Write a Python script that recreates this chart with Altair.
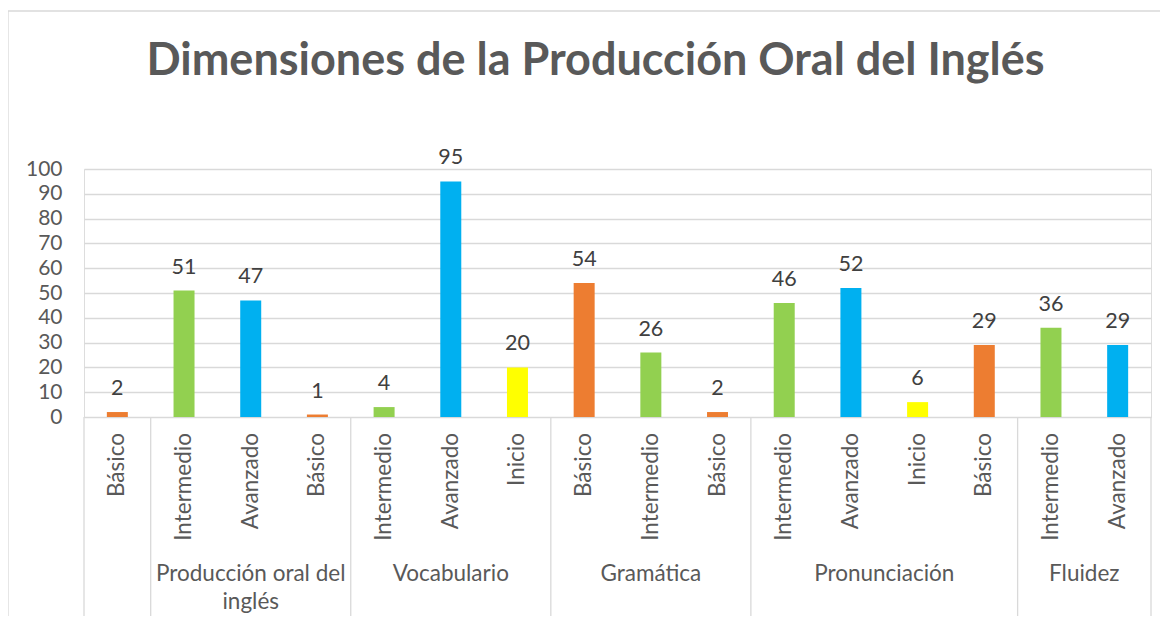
import altair as alt
import pandas as pd

# ---- data ----
title_text = "Dimensiones de la Producción Oral del Inglés"
groups = ["", "Producción oral del\ninglés", "Vocabulario", "Gramática", "Pronunciación", "Fluidez"]
group_sizes = [1, 3, 3, 3, 4, 2]
levels = ["Básico", "Intermedio", "Avanzado", "Básico",
          "Intermedio", "Avanzado", "Inicio",
          "Básico", "Intermedio", "Básico",
          "Intermedio", "Avanzado", "Inicio", "Básico",
          "Intermedio", "Avanzado"]
values = [2, 51, 47, 1,
          4, 95, 20,
          54, 26, 2,
          46, 52, 6, 29,
          36, 29]
level_domain = ["Básico", "Intermedio", "Avanzado", "Inicio"]
level_colors = ["#ED7D31", "#92D050", "#00B0F0", "#FFFF00"]
y_ticks = list(range(0, 101, 10))

W, H = 1067, 248
n = len(values)
FONT = "Lato"
GRID = "#D9D9D9"
TXT = "#595959"

bars_df = pd.DataFrame({"pos": [i + 0.5 for i in range(n)], "nivel": levels, "valor": values})
bounds = [0]
for s in group_sizes:
    bounds.append(bounds[-1] + s)
sep_df = pd.DataFrame({"pos": bounds})
grp_df = pd.DataFrame({"pos": [(bounds[i] + bounds[i + 1]) / 2 for i in range(len(groups))],
                       "grupo": groups})
title_df = pd.DataFrame({"t": [title_text]})

x = alt.X("pos:Q", scale=alt.Scale(domain=[0, n], nice=False, zero=False, padding=0), axis=None)
y = alt.Y("valor:Q", scale=alt.Scale(domain=[0, 100], nice=False, padding=0),
          axis=alt.Axis(values=y_ticks, tickCount=11, grid=True, gridColor=GRID, gridWidth=1.3,
                        domain=False, ticks=False, labelFontSize=21, labelColor=TXT,
                        labelFont=FONT, labelPadding=22, labelOverlap=False, title=None))

border = alt.Chart(pd.DataFrame({"a": [0]})).mark_rect(
    fill="white", fillOpacity=0, stroke=GRID, strokeWidth=1.3
).encode(x=alt.value(-76), x2=alt.value(W + 100), y=alt.value(-158), y2=alt.value(H + 300))

title = alt.Chart(title_df).mark_text(
    align="center", baseline="alphabetic", font=FONT, fontSize=45, fontWeight="bold", color=TXT
).encode(x=alt.value(W / 2 - 22), y=alt.value(-94), text="t:N")

bars = alt.Chart(bars_df).mark_bar(size=21, orient="vertical").encode(
    x=x, y=y,
    color=alt.Color("nivel:N", scale=alt.Scale(domain=level_domain, range=level_colors), legend=None),
)

labels = alt.Chart(bars_df).mark_text(
    baseline="alphabetic", dy=-17, fontSize=21.5, color="#404040", font=FONT
).encode(x=x, y="valor:Q", text="valor:Q")

cats = alt.Chart(bars_df).mark_text(
    angle=270, align="right", baseline="middle", fontSize=22.5, color=TXT, font=FONT
).encode(x=x, y=alt.value(H + 16), text="nivel:N")

seps = alt.Chart(sep_df).mark_rule(color=GRID, strokeWidth=1.3).encode(
    x=x, y=alt.value(H), y2=alt.value(H + 201)
)

grp = alt.Chart(grp_df).mark_text(
    baseline="top", lineBreak="\n", lineHeight=28, fontSize=22.5, color=TXT, font=FONT
).encode(x=x, y=alt.value(H + 146), text="grupo:N")

chart = alt.layer(border, title, bars, labels, cats, seps, grp).properties(
    width=W, height=H,
    padding={"left": 76, "top": 161, "right": 9, "bottom": 199},
    autosize=alt.AutoSizeParams(type="none"),
).configure_view(strokeWidth=0).configure(background="white")

chart.save("out.html", embed_options={"renderer": "svg", "actions": False})
